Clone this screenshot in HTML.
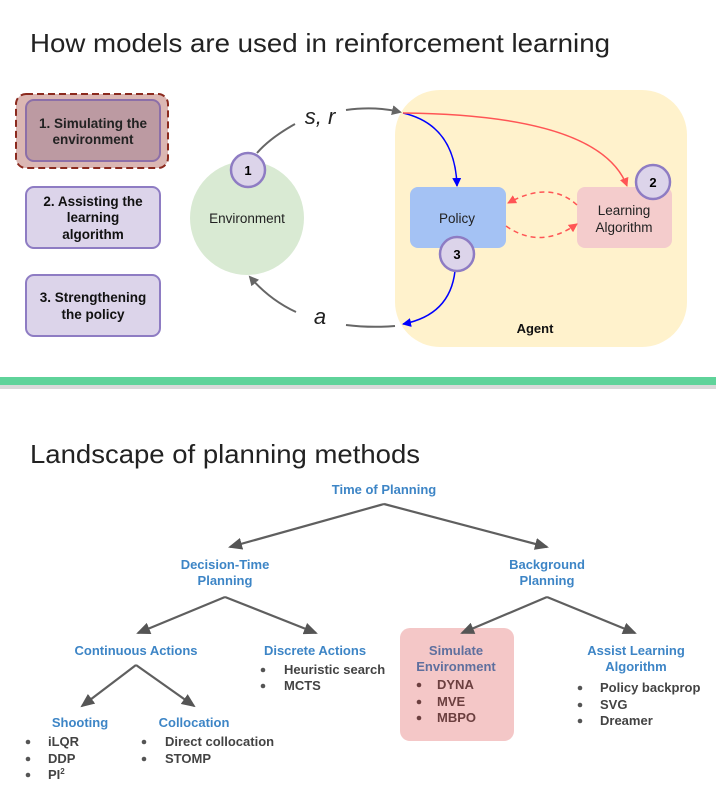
<!DOCTYPE html>
<html><head><meta charset="utf-8"><style>
body{margin:0;background:#fff;width:716px;height:789px;overflow:hidden}
svg{display:block}
text{font-family:"Liberation Sans",sans-serif}
.b{font-weight:bold;font-size:13px;fill:#3d85c6}
.l{font-weight:bold;font-size:13px;fill:#434343}
</style></head><body>
<svg width="716" height="789" viewBox="0 0 716 789">
<defs>
<marker id="ag" markerWidth="10" markerHeight="10" refX="8" refY="5" orient="auto" markerUnits="userSpaceOnUse"><path d="M0,0 L10,5 L0,10z" fill="#666"/></marker>
<marker id="ab" markerWidth="9" markerHeight="9" refX="8" refY="4.5" orient="auto" markerUnits="userSpaceOnUse"><path d="M0,0 L9,4.5 L0,9z" fill="#00f"/></marker>
<marker id="ar" markerWidth="9" markerHeight="9" refX="8" refY="4.5" orient="auto" markerUnits="userSpaceOnUse"><path d="M0,0 L9,4.5 L0,9z" fill="#f55"/></marker>
<marker id="at" markerWidth="14" markerHeight="12" refX="12" refY="6" orient="auto" markerUnits="userSpaceOnUse"><path d="M0,0 L14,6 L0,12z" fill="#555"/></marker>
</defs>
<text x="30" y="52" font-size="26" fill="#222" textLength="580" lengthAdjust="spacingAndGlyphs">How models are used in reinforcement learning</text>
<rect x="16" y="94" width="152" height="74" rx="10" fill="#dbb7b3" stroke="#8b2a1e" stroke-width="2" stroke-dasharray="7,4"/>
<rect x="26" y="100" width="134" height="61" rx="8" fill="#bc9aa2" stroke="#8c6fa8" stroke-width="2"/>
<text x="93" y="128" text-anchor="middle" font-size="13.5" font-weight="bold" fill="#222">1. Simulating the</text>
<text x="93" y="144" text-anchor="middle" font-size="13.5" font-weight="bold" fill="#222">environment</text>
<rect x="26" y="187" width="134" height="61" rx="8" fill="#dcd4ea" stroke="#8e7cc3" stroke-width="2"/>
<text x="93" y="206" text-anchor="middle" font-size="13.5" font-weight="bold" fill="#111">2. Assisting the</text>
<text x="93" y="222" text-anchor="middle" font-size="13.5" font-weight="bold" fill="#111">learning</text>
<text x="93" y="239" text-anchor="middle" font-size="13.5" font-weight="bold" fill="#111">algorithm</text>
<rect x="26" y="275" width="134" height="61" rx="8" fill="#dcd4ea" stroke="#8e7cc3" stroke-width="2"/>
<text x="93" y="302" text-anchor="middle" font-size="13.5" font-weight="bold" fill="#111">3. Strengthening</text>
<text x="93" y="319" text-anchor="middle" font-size="13.5" font-weight="bold" fill="#111">the policy</text>
<rect x="395" y="90" width="292" height="257" rx="45" fill="#fff2cc"/>
<circle cx="247" cy="218" r="57" fill="#d9ead3"/>
<text x="247" y="223" text-anchor="middle" font-size="13.5" fill="#222">Environment</text>
<path d="M257,153 Q270,138 295,124" fill="none" stroke="#666" stroke-width="2"/>
<path d="M346,110 Q375,106 400,112" fill="none" stroke="#666" stroke-width="2" marker-end="url(#ag)"/>
<text x="320" y="124" text-anchor="middle" font-size="22" font-style="italic" font-family="Liberation Serif,serif" fill="#222">s, r</text>
<path d="M395,326 Q370,328 346,325" fill="none" stroke="#666" stroke-width="2"/>
<path d="M296,312 Q270,300 250,277" fill="none" stroke="#666" stroke-width="2" marker-end="url(#ag)"/>
<text x="320" y="324" text-anchor="middle" font-size="22" font-style="italic" font-family="Liberation Serif,serif" fill="#222">a</text>
<circle cx="248" cy="170" r="17" fill="#dcd4ea" stroke="#8e7cc3" stroke-width="2.5"/>
<text x="248" y="175" text-anchor="middle" font-size="13" font-weight="bold">1</text>
<rect x="410" y="187" width="96" height="61" rx="8" fill="#a4c2f4"/>
<text x="457" y="223" text-anchor="middle" font-size="13.5" fill="#222">Policy</text>
<rect x="577" y="187" width="95" height="61" rx="8" fill="#f4cccc"/>
<text x="624" y="215" text-anchor="middle" font-size="13.5" fill="#222">Learning</text>
<text x="624" y="232" text-anchor="middle" font-size="13.5" fill="#222">Algorithm</text>
<path d="M403,113 Q455,125 457,186" fill="none" stroke="#00f" stroke-width="1.5" marker-end="url(#ab)"/>
<path d="M403,113 Q600,115 627,186" fill="none" stroke="#f55" stroke-width="1.5" marker-end="url(#ar)"/>
<path d="M577,205 Q550,180 508,203" fill="none" stroke="#f55" stroke-width="1.5" stroke-dasharray="5,4" marker-end="url(#ar)"/>
<path d="M506,226 Q540,250 577,224" fill="none" stroke="#f55" stroke-width="1.5" stroke-dasharray="5,4" marker-end="url(#ar)"/>
<path d="M455,271 Q450,315 403,324" fill="none" stroke="#00f" stroke-width="1.5" marker-end="url(#ab)"/>
<circle cx="653" cy="182" r="17" fill="#dcd4ea" stroke="#8e7cc3" stroke-width="2.5"/>
<text x="653" y="187" text-anchor="middle" font-size="13" font-weight="bold">2</text>
<circle cx="457" cy="254" r="17" fill="#dcd4ea" stroke="#8e7cc3" stroke-width="2.5"/>
<text x="457" y="259" text-anchor="middle" font-size="13" font-weight="bold">3</text>
<text x="535" y="333" text-anchor="middle" font-size="13" font-weight="bold" fill="#111">Agent</text>
<rect x="0" y="377" width="716" height="8" fill="#5fd39a"/>
<rect x="0" y="385" width="716" height="4" fill="#d9d9d9"/>
<text x="30" y="463" font-size="26" fill="#222" textLength="390" lengthAdjust="spacingAndGlyphs">Landscape of planning methods</text>
<rect x="400" y="628" width="114" height="113" rx="10" fill="#f4c7c7"/>
<g stroke="#5f5f5f" stroke-width="2.2" fill="none">
<path d="M384,504 L230,547" marker-end="url(#at)"/>
<path d="M384,504 L547,547" marker-end="url(#at)"/>
<path d="M225,597 L138,633" marker-end="url(#at)"/>
<path d="M225,597 L316,633" marker-end="url(#at)"/>
<path d="M547,597 L462,633" marker-end="url(#at)"/>
<path d="M547,597 L635,633" marker-end="url(#at)"/>
<path d="M136,665 L82,706" marker-end="url(#at)"/>
<path d="M136,665 L194,706" marker-end="url(#at)"/>
</g>
<g text-anchor="middle">
<text class="b" x="384" y="494">Time of Planning</text>
<text class="b" x="225" y="569">Decision-Time</text>
<text class="b" x="225" y="585">Planning</text>
<text class="b" x="547" y="569">Background</text>
<text class="b" x="547" y="585">Planning</text>
<text class="b" x="136" y="655">Continuous Actions</text>
<text class="b" x="315" y="655">Discrete Actions</text>
<text class="b" x="456" y="655" style="fill:#5e6f9e">Simulate</text>
<text class="b" x="456" y="671" style="fill:#5e6f9e">Environment</text>
<text class="b" x="636" y="655">Assist Learning</text>
<text class="b" x="636" y="671">Algorithm</text>
<text class="b" x="80" y="727">Shooting</text>
<text class="b" x="194" y="727">Collocation</text>
</g>
<g>
<text class="l" x="284" y="674">Heuristic search</text>
<text class="l" x="284" y="690">MCTS</text>
<text class="l" x="437" y="689" style="fill:#6b3f3f">DYNA</text>
<text class="l" x="437" y="706" style="fill:#6b3f3f">MVE</text>
<text class="l" x="437" y="722" style="fill:#6b3f3f">MBPO</text>
<text class="l" x="600" y="692">Policy backprop</text>
<text class="l" x="600" y="709">SVG</text>
<text class="l" x="600" y="725">Dreamer</text>
<text class="l" x="48" y="746">iLQR</text>
<text class="l" x="48" y="763">DDP</text>
<text class="l" x="48" y="779">PI<tspan font-size="8" dy="-5">2</tspan></text>
<text class="l" x="165" y="746">Direct collocation</text>
<text class="l" x="165" y="763">STOMP</text>
</g>
<g fill="#555">
<circle cx="263" cy="670" r="2.3"/><circle cx="263" cy="686" r="2.3"/>
<circle cx="419" cy="685" r="2.3" fill="#6b3f3f"/><circle cx="419" cy="702" r="2.3" fill="#6b3f3f"/><circle cx="419" cy="718" r="2.3" fill="#6b3f3f"/>
<circle cx="580" cy="688" r="2.3"/><circle cx="580" cy="705" r="2.3"/><circle cx="580" cy="721" r="2.3"/>
<circle cx="28" cy="742" r="2.3"/><circle cx="28" cy="759" r="2.3"/><circle cx="28" cy="775" r="2.3"/>
<circle cx="144" cy="742" r="2.3"/><circle cx="144" cy="759" r="2.3"/>
</g>
</svg>
</body></html>
